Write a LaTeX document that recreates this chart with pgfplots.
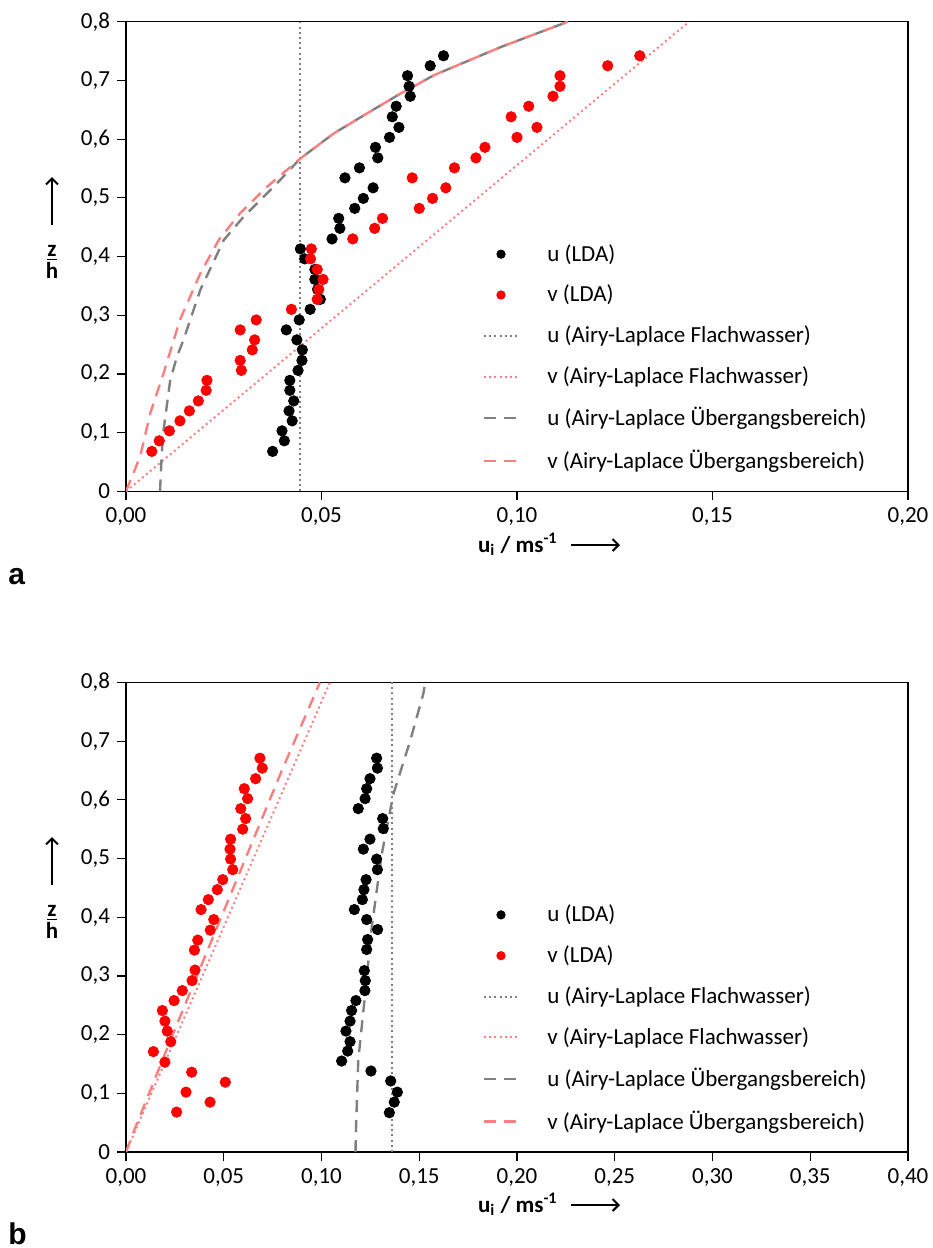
\documentclass[border=0pt]{standalone}
\usepackage{pgfplots}
\pgfplotsset{compat=1.18}
\usepackage{fontspec}
\setmainfont{Carlito}
\newfontfamily\arialfont{Liberation Sans}
\usetikzlibrary{arrows.meta}

\definecolor{lgray}{RGB}{128,128,128}
\definecolor{lpink}{RGB}{250,128,128}

\pgfplotsset{
  panel/.style={
    scale only axis, width=391pt, height=234.8pt,
    xmin=0, ymin=0, ymax=0.8,
    ytick={0,0.1,...,0.8},
    tick align=outside, xtick pos=bottom, ytick pos=left,
    major tick length=4.5pt,
    axis line style={line width=0.6pt},
    every tick/.style={line width=0.6pt, black},
    tick label style={font=\fontsize{11.5}{13}\selectfont},
    /pgf/number format/.cd, use comma, assume math mode=true,
    /pgfplots/.cd,
    xticklabel style={/pgf/number format/.cd, fixed, fixed zerofill, precision=2},
    yticklabel style={/pgf/number format/.cd, fixed, precision=1},
    legend cell align=left,
    legend style={draw=none, fill=none, at={(0.448,0.544)}, anchor=north west,
      font=\fontsize{11.5}{13}\selectfont, row sep=6.5pt, column sep=12pt},
    legend image code/.code={\draw[mark repeat=2,mark phase=2] plot coordinates {(0cm,0cm) (0.3cm,0cm) (0.6cm,0cm)};},
  },
  dat/.style={only marks, mark=*, mark size=2.6pt, legend image post style={mark size=2.1pt}},
  flach/.style={line width=1pt, dash pattern=on 1pt off 1.6pt},
  ueber/.style={line width=1.2pt, dash pattern=on 6pt off 4pt},
}

\begin{document}
\begin{tikzpicture}
\useasboundingbox (0,0) rectangle (466pt,-624pt);

% ---------------- panel a ----------------
\begin{axis}[panel, at={(63pt,-245.65pt)}, anchor=south west,
  xmax=0.2, xtick={0,0.05,...,0.2}]
% Airy-Laplace lines
\addplot[forget plot, lgray, flach] coordinates {(0.0446,0) (0.0446,0.8)};
\addplot[forget plot, lpink, flach] coordinates {(0,0) (0.144,0.8)};
\addplot[forget plot, lgray, ueber] coordinates {
(0.0087,0) (0.0089,0.03) (0.0092,0.070) (0.0096,0.104) (0.0104,0.144) (0.0113,0.189)
(0.0130,0.229) (0.0147,0.258) (0.0190,0.343) (0.0250,0.428) (0.0301,0.468)
(0.0378,0.519) (0.0446,0.567) (0.0532,0.610) (0.0617,0.644) (0.0703,0.678)
(0.0788,0.709) (0.0959,0.757) (0.1130,0.800)};
\addplot[forget plot, lpink, ueber] coordinates {
(0,0) (0.0019,0.031) (0.0036,0.059) (0.0062,0.133) (0.0096,0.201) (0.0138,0.292)
(0.0190,0.371) (0.0237,0.428) (0.0292,0.474) (0.0361,0.519) (0.0446,0.567)
(0.0532,0.610) (0.0617,0.644) (0.0703,0.678) (0.0788,0.709) (0.0959,0.757) (0.1130,0.800)};
% LDA
\addplot[dat, black] coordinates {
(0.0812,0.742) (0.0778,0.725) (0.0720,0.708) (0.0724,0.690) (0.0727,0.673)
(0.0691,0.656) (0.0681,0.638) (0.0698,0.620) (0.0674,0.603) (0.0638,0.586)
(0.0644,0.568) (0.0597,0.551) (0.0560,0.534) (0.0632,0.517) (0.0607,0.499)
(0.0585,0.482) (0.0544,0.465) (0.0547,0.448) (0.0527,0.430) (0.0446,0.413)
(0.0457,0.396) (0.0483,0.378) (0.0483,0.361) (0.0490,0.344) (0.0497,0.327)
(0.0471,0.310) (0.0443,0.292) (0.0410,0.275) (0.0437,0.258) (0.0451,0.241)
(0.0450,0.223) (0.0440,0.206) (0.0419,0.189) (0.0419,0.172) (0.0429,0.154)
(0.0417,0.137) (0.0425,0.120) (0.0399,0.103) (0.0405,0.086) (0.0375,0.068)};
\addlegendentry{u (LDA)}
\addplot[dat, red] coordinates {
(0.1314,0.742) (0.1232,0.725) (0.1110,0.708) (0.1110,0.690) (0.1092,0.673)
(0.1030,0.656) (0.0985,0.638) (0.1051,0.620) (0.1000,0.603) (0.0918,0.586)
(0.0895,0.568) (0.0840,0.551) (0.0732,0.534) (0.0818,0.517) (0.0784,0.499)
(0.0750,0.482) (0.0656,0.465) (0.0636,0.448) (0.0580,0.430) (0.0474,0.413)
(0.0472,0.396) (0.0489,0.378) (0.0504,0.361) (0.0493,0.344) (0.0489,0.327)
(0.0423,0.310) (0.0333,0.292) (0.0292,0.275) (0.0329,0.258) (0.0323,0.241)
(0.0292,0.223) (0.0295,0.206) (0.0207,0.189) (0.0205,0.172) (0.0185,0.154)
(0.0162,0.137) (0.0138,0.120) (0.0111,0.103) (0.0085,0.086) (0.0066,0.068)};
\addlegendentry{v (LDA)}
\addlegendimage{lgray, flach}
\addlegendentry{u (Airy-Laplace Flachwasser)}
\addlegendimage{lpink, flach}
\addlegendentry{v (Airy-Laplace Flachwasser)}
\addlegendimage{lgray, ueber}
\addlegendentry{u (Airy-Laplace Übergangsbereich)}
\addlegendimage{lpink, ueber}
\addlegendentry{v (Airy-Laplace Übergangsbereich)}
\end{axis}

% ---------------- panel b ----------------
\begin{axis}[panel, at={(63pt,-576pt)}, anchor=south west,
  xmax=0.4, xtick={0,0.05,...,0.4}]
\addplot[forget plot, lgray, flach] coordinates {(0.1362,0) (0.1362,0.8)};
\addplot[forget plot, lpink, flach] coordinates {(0,0) (0.1043,0.8)};
\addplot[forget plot, lgray, ueber] coordinates {
(0.1174,0) (0.1176,0.034) (0.1188,0.156) (0.1223,0.269) (0.1257,0.383)
(0.1308,0.507) (0.1367,0.609) (0.1453,0.700) (0.1521,0.781) (0.1530,0.800)};
\addplot[forget plot, lpink, ueber] coordinates {
(0,0) (0.0036,0.032) (0.0234,0.196) (0.0796,0.649) (0.0992,0.800)};
\addplot[dat, black] coordinates {
(0.1282,0.671) (0.1286,0.654) (0.1248,0.636) (0.1231,0.619) (0.1223,0.602)
(0.1188,0.585) (0.1313,0.568) (0.1316,0.551) (0.1248,0.533) (0.1214,0.516)
(0.1282,0.499) (0.1286,0.481) (0.1228,0.464) (0.1217,0.447) (0.1209,0.430)
(0.1168,0.413) (0.1231,0.396) (0.1287,0.379) (0.1236,0.362) (0.1231,0.345)
(0.1219,0.309) (0.1224,0.292) (0.1222,0.275) (0.1176,0.258) (0.1154,0.241)
(0.1146,0.223) (0.1125,0.206) (0.1146,0.188) (0.1134,0.172) (0.1103,0.155)
(0.1253,0.138) (0.1354,0.121) (0.1388,0.102) (0.1372,0.085) (0.1347,0.067)};
\addlegendentry{u (LDA)}
\addplot[dat, red] coordinates {
(0.0685,0.671) (0.0697,0.654) (0.0663,0.636) (0.0605,0.619) (0.0622,0.602)
(0.0587,0.585) (0.0612,0.568) (0.0597,0.550) (0.0535,0.533) (0.0532,0.516)
(0.0535,0.499) (0.0546,0.481) (0.0495,0.464) (0.0467,0.447) (0.0421,0.430)
(0.0384,0.413) (0.0449,0.396) (0.0431,0.378) (0.0367,0.361) (0.0350,0.344)
(0.0353,0.310) (0.0338,0.292) (0.0288,0.275) (0.0246,0.258) (0.0186,0.241)
(0.0199,0.223) (0.0211,0.206) (0.0229,0.188) (0.0140,0.171) (0.0199,0.153)
(0.0336,0.136) (0.0508,0.119) (0.0307,0.102) (0.0430,0.085) (0.0259,0.068)};
\addlegendentry{v (LDA)}
\addlegendimage{lgray, flach}
\addlegendentry{u (Airy-Laplace Flachwasser)}
\addlegendimage{lpink, flach}
\addlegendentry{v (Airy-Laplace Flachwasser)}
\addlegendimage{lgray, ueber}
\addlegendentry{u (Airy-Laplace Übergangsbereich)}
\addlegendimage{lpink, ueber}
\addlegendentry{v (Airy-Laplace Übergangsbereich)}
\end{axis}

% axis labels, arrows and panel letters
\foreach \dy/\lab in {0/a, -330/b} {
  \begin{scope}[yshift=\dy pt]
    \draw[line width=1pt, -{Straight Barb[length=3pt,width=6pt]}] (26pt,-112.5pt) -- (26pt,-88.5pt);
    \node[font=\fontsize{11.5}{12}\selectfont\bfseries, align=center, inner sep=0pt]
      at (26pt,-131pt) {\underline{z}\\[-1pt]h};
    \node[font=\fontsize{11.5}{13}\selectfont\bfseries, anchor=base east, inner sep=0pt]
      at (279pt,-276pt) {u\textsubscript{i} / ms\textsuperscript{-1}};
    \draw[line width=1pt, -{Straight Barb[length=3pt,width=6pt]}] (285.5pt,-272.5pt) -- (310pt,-272.5pt);
    \node[font=\arialfont\fontsize{15}{16}\selectfont\bfseries, anchor=base west, inner sep=0pt]
      at (4pt,-292pt) {\lab};
  \end{scope}
}
\end{tikzpicture}
\end{document}
